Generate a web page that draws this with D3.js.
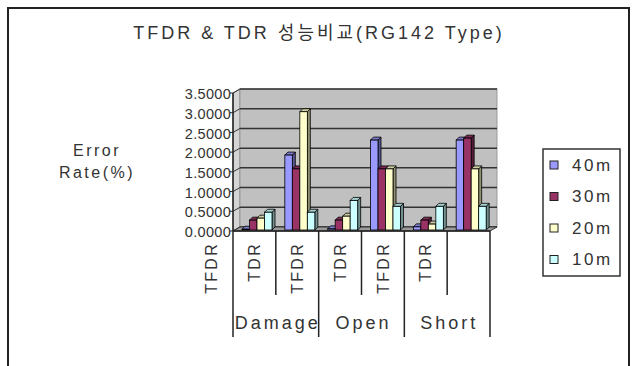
<!DOCTYPE html>
<html>
<head>
<meta charset="utf-8">
<script src="https://cdn.jsdelivr.net/npm/d3@7"></script>
<style>
  body { margin: 0; background: #fff; }
  text { font-family: "Liberation Sans", Arial, "Noto Sans CJK KR", sans-serif; fill: #333; }
</style>
</head>
<body>
<div id="chart"></div>
<script>
const title = "TFDR & TDR 성능비교(RG142 Type)";
const groups = ["Damage", "Open", "Short"];
// inner labels as Excel drew them (shifted one slot to the left)
const innerLabels = ["TFDR", "TDR", "TFDR", "TDR", "TFDR", "TDR"];
const series = ["40m", "30m", "20m", "10m"];
const colors = ["#9999ff", "#993366", "#ffffcc", "#ccffff"];
const v40 = [0.02, 1.90, 0.03, 2.28, 0.08, 2.28];
const v30 = [0.25, 1.55, 0.25, 1.55, 0.25, 2.33];
const v20 = [0.30, 3.00, 0.35, 1.55, 0.15, 1.55];
const v10 = [0.45, 0.45, 0.75, 0.60, 0.60, 0.60];
const yTicks = [0, 0.5, 1, 1.5, 2, 2.5, 3, 3.5];

const values = [v40, v30, v20, v10];
const W = 638, H = 366;

const svg = d3.select("#chart").append("svg")
    .attr("width", W)
    .attr("height", H);

// outer frame
svg.append("rect")
    .attr("x", 8).attr("y", 8)
    .attr("width", 621).attr("height", 380)
    .attr("fill", "#fff")
    .attr("stroke", "#222")
    .attr("stroke-width", 2);

svg.append("text")
    .attr("x", 319).attr("y", 39)
    .attr("text-anchor", "middle")
    .style("font-size", "18px")
    .style("letter-spacing", "3px")
    .text(title);

svg.append("text")
    .attr("x", 97).attr("y", 156)
    .attr("text-anchor", "middle")
    .style("font-size", "16px")
    .style("letter-spacing", "2.5px")
    .text("Error");
svg.append("text")
    .attr("x", 97).attr("y", 178)
    .attr("text-anchor", "middle")
    .style("font-size", "16px")
    .style("letter-spacing", "2.5px")
    .text("Rate(%)");

const x = d3.scaleBand().domain(d3.range(6)).range([233, 490]);
const inner = d3.scaleBand().domain(d3.range(4)).range([9, 39]);
const y = d3.scaleLinear().domain([0, 3.5]).range([231, 93]);
const dx = 7, dy = -4;   // depth of the 3D box
const bx = 3, by = -3;   // depth of a bar

const plot = svg.append("g");

// side wall
plot.append("path")
    .attr("d", `M${x.range()[0]},${y(0)} L${x.range()[0] + dx},${y(0) + dy} L${x.range()[0] + dx},${y(3.5) + dy} L${x.range()[0]},${y(3.5)} Z`)
    .attr("fill", "#d4d4d4")
    .attr("stroke", "#777");

// back wall
plot.append("rect")
    .attr("x", x.range()[0] + dx).attr("y", y(3.5) + dy)
    .attr("width", x.range()[1] - x.range()[0])
    .attr("height", y(0) - y(3.5))
    .attr("fill", "#c0c0c0")
    .attr("stroke", "#999");

// gridlines on back wall and side wall
yTicks.forEach(t => {
    plot.append("line")
        .attr("x1", x.range()[0] + dx).attr("x2", x.range()[1] + dx)
        .attr("y1", y(t) + dy).attr("y2", y(t) + dy)
        .attr("stroke", "#333").attr("stroke-width", 1.5);
    plot.append("line")
        .attr("x1", x.range()[0]).attr("x2", x.range()[0] + dx)
        .attr("y1", y(t)).attr("y2", y(t) + dy)
        .attr("stroke", "#333").attr("stroke-width", 1);
});

// floor
plot.append("path")
    .attr("d", `M${x.range()[0]},${y(0)} L${x.range()[0] + dx},${y(0) + dy} L${x.range()[1] + dx},${y(0) + dy} L${x.range()[1]},${y(0)} Z`)
    .attr("fill", "#9a9a9a")
    .attr("stroke", "#333");

// bars
const base = y(0) - 1;
const bw = inner.bandwidth();
values.forEach((vals, s) => {
    const c = d3.color(colors[s]);
    vals.forEach((v, i) => {
        const x0 = x(i) + inner(s);
        const top = base - (y(0) - y(v));
        const g = plot.append("g");
        g.append("path")
            .attr("d", `M${x0 + bw},${top} L${x0 + bw + bx},${top + by} L${x0 + bw + bx},${base + by} L${x0 + bw},${base} Z`)
            .attr("fill", c.darker(1.6))
            .attr("stroke", "#000").attr("stroke-width", 0.8);
        g.append("path")
            .attr("d", `M${x0},${top} L${x0 + bx},${top + by} L${x0 + bw + bx},${top + by} L${x0 + bw},${top} Z`)
            .attr("fill", c.darker(0.6))
            .attr("stroke", "#000").attr("stroke-width", 0.8);
        g.append("rect")
            .attr("x", x0).attr("y", top)
            .attr("width", bw).attr("height", base - top)
            .attr("fill", colors[s])
            .attr("stroke", "#000").attr("stroke-width", 0.8);
    });
});

// value axis
plot.append("line")
    .attr("x1", x.range()[0]).attr("x2", x.range()[0])
    .attr("y1", y(3.5)).attr("y2", y(0))
    .attr("stroke", "#222").attr("stroke-width", 1.5);
yTicks.forEach(t => {
    plot.append("line")
        .attr("x1", x.range()[0] - 3).attr("x2", x.range()[0])
        .attr("y1", y(t)).attr("y2", y(t))
        .attr("stroke", "#222");
    plot.append("text")
        .attr("x", x.range()[0] - 2).attr("y", y(t) + 1)
        .attr("dy", "0.35em")
        .attr("text-anchor", "end")
        .style("font-size", "14.5px")
        .style("letter-spacing", "0.3px")
        .text(d3.format(".4f")(t));
});

// category axis
plot.append("line")
    .attr("x1", x.range()[0]).attr("x2", x.range()[1])
    .attr("y1", y(0)).attr("y2", y(0))
    .attr("stroke", "#222").attr("stroke-width", 1.5);
d3.range(7).forEach(i => {
    const xx = i < 6 ? x(i) : x.range()[1];
    plot.append("line")
        .attr("x1", xx).attr("x2", xx)
        .attr("y1", y(0)).attr("y2", i % 2 === 0 ? 337 : 295)
        .attr("stroke", "#222").attr("stroke-width", 1.5);
});
innerLabels.forEach((lab, i) => {
    const cx = x.range()[0] + (i - 0.5) * x.bandwidth();
    plot.append("text")
        .attr("transform", `translate(${cx},242) rotate(-90)`)
        .attr("dy", "0.35em")
        .attr("text-anchor", "end")
        .style("font-size", "16px")
        .style("letter-spacing", "2.3px")
        .text(lab);
});
groups.forEach((g, i) => {
    const cx = x(i * 2) + x.bandwidth();
    plot.append("text")
        .attr("x", cx + 2).attr("y", 329)
        .attr("text-anchor", "middle")
        .style("font-size", "18px")
        .style("letter-spacing", "3px")
        .text(g);
});

// legend
const legend = svg.append("g");
legend.append("rect")
    .attr("x", 543).attr("y", 149)
    .attr("width", 77).attr("height", 127)
    .attr("fill", "#fff")
    .attr("stroke", "#333").attr("stroke-width", 1.5);
series.forEach((s, i) => {
    const ly = 165 + i * 31.5;
    legend.append("rect")
        .attr("x", 550).attr("y", ly - 4)
        .attr("width", 8).attr("height", 8)
        .attr("fill", colors[i])
        .attr("stroke", "#222");
    legend.append("text")
        .attr("x", 572).attr("y", ly)
        .attr("dy", "0.35em")
        .style("font-size", "17px")
        .style("letter-spacing", "2.6px")
        .text(s);
});
</script>
</body>
</html>
